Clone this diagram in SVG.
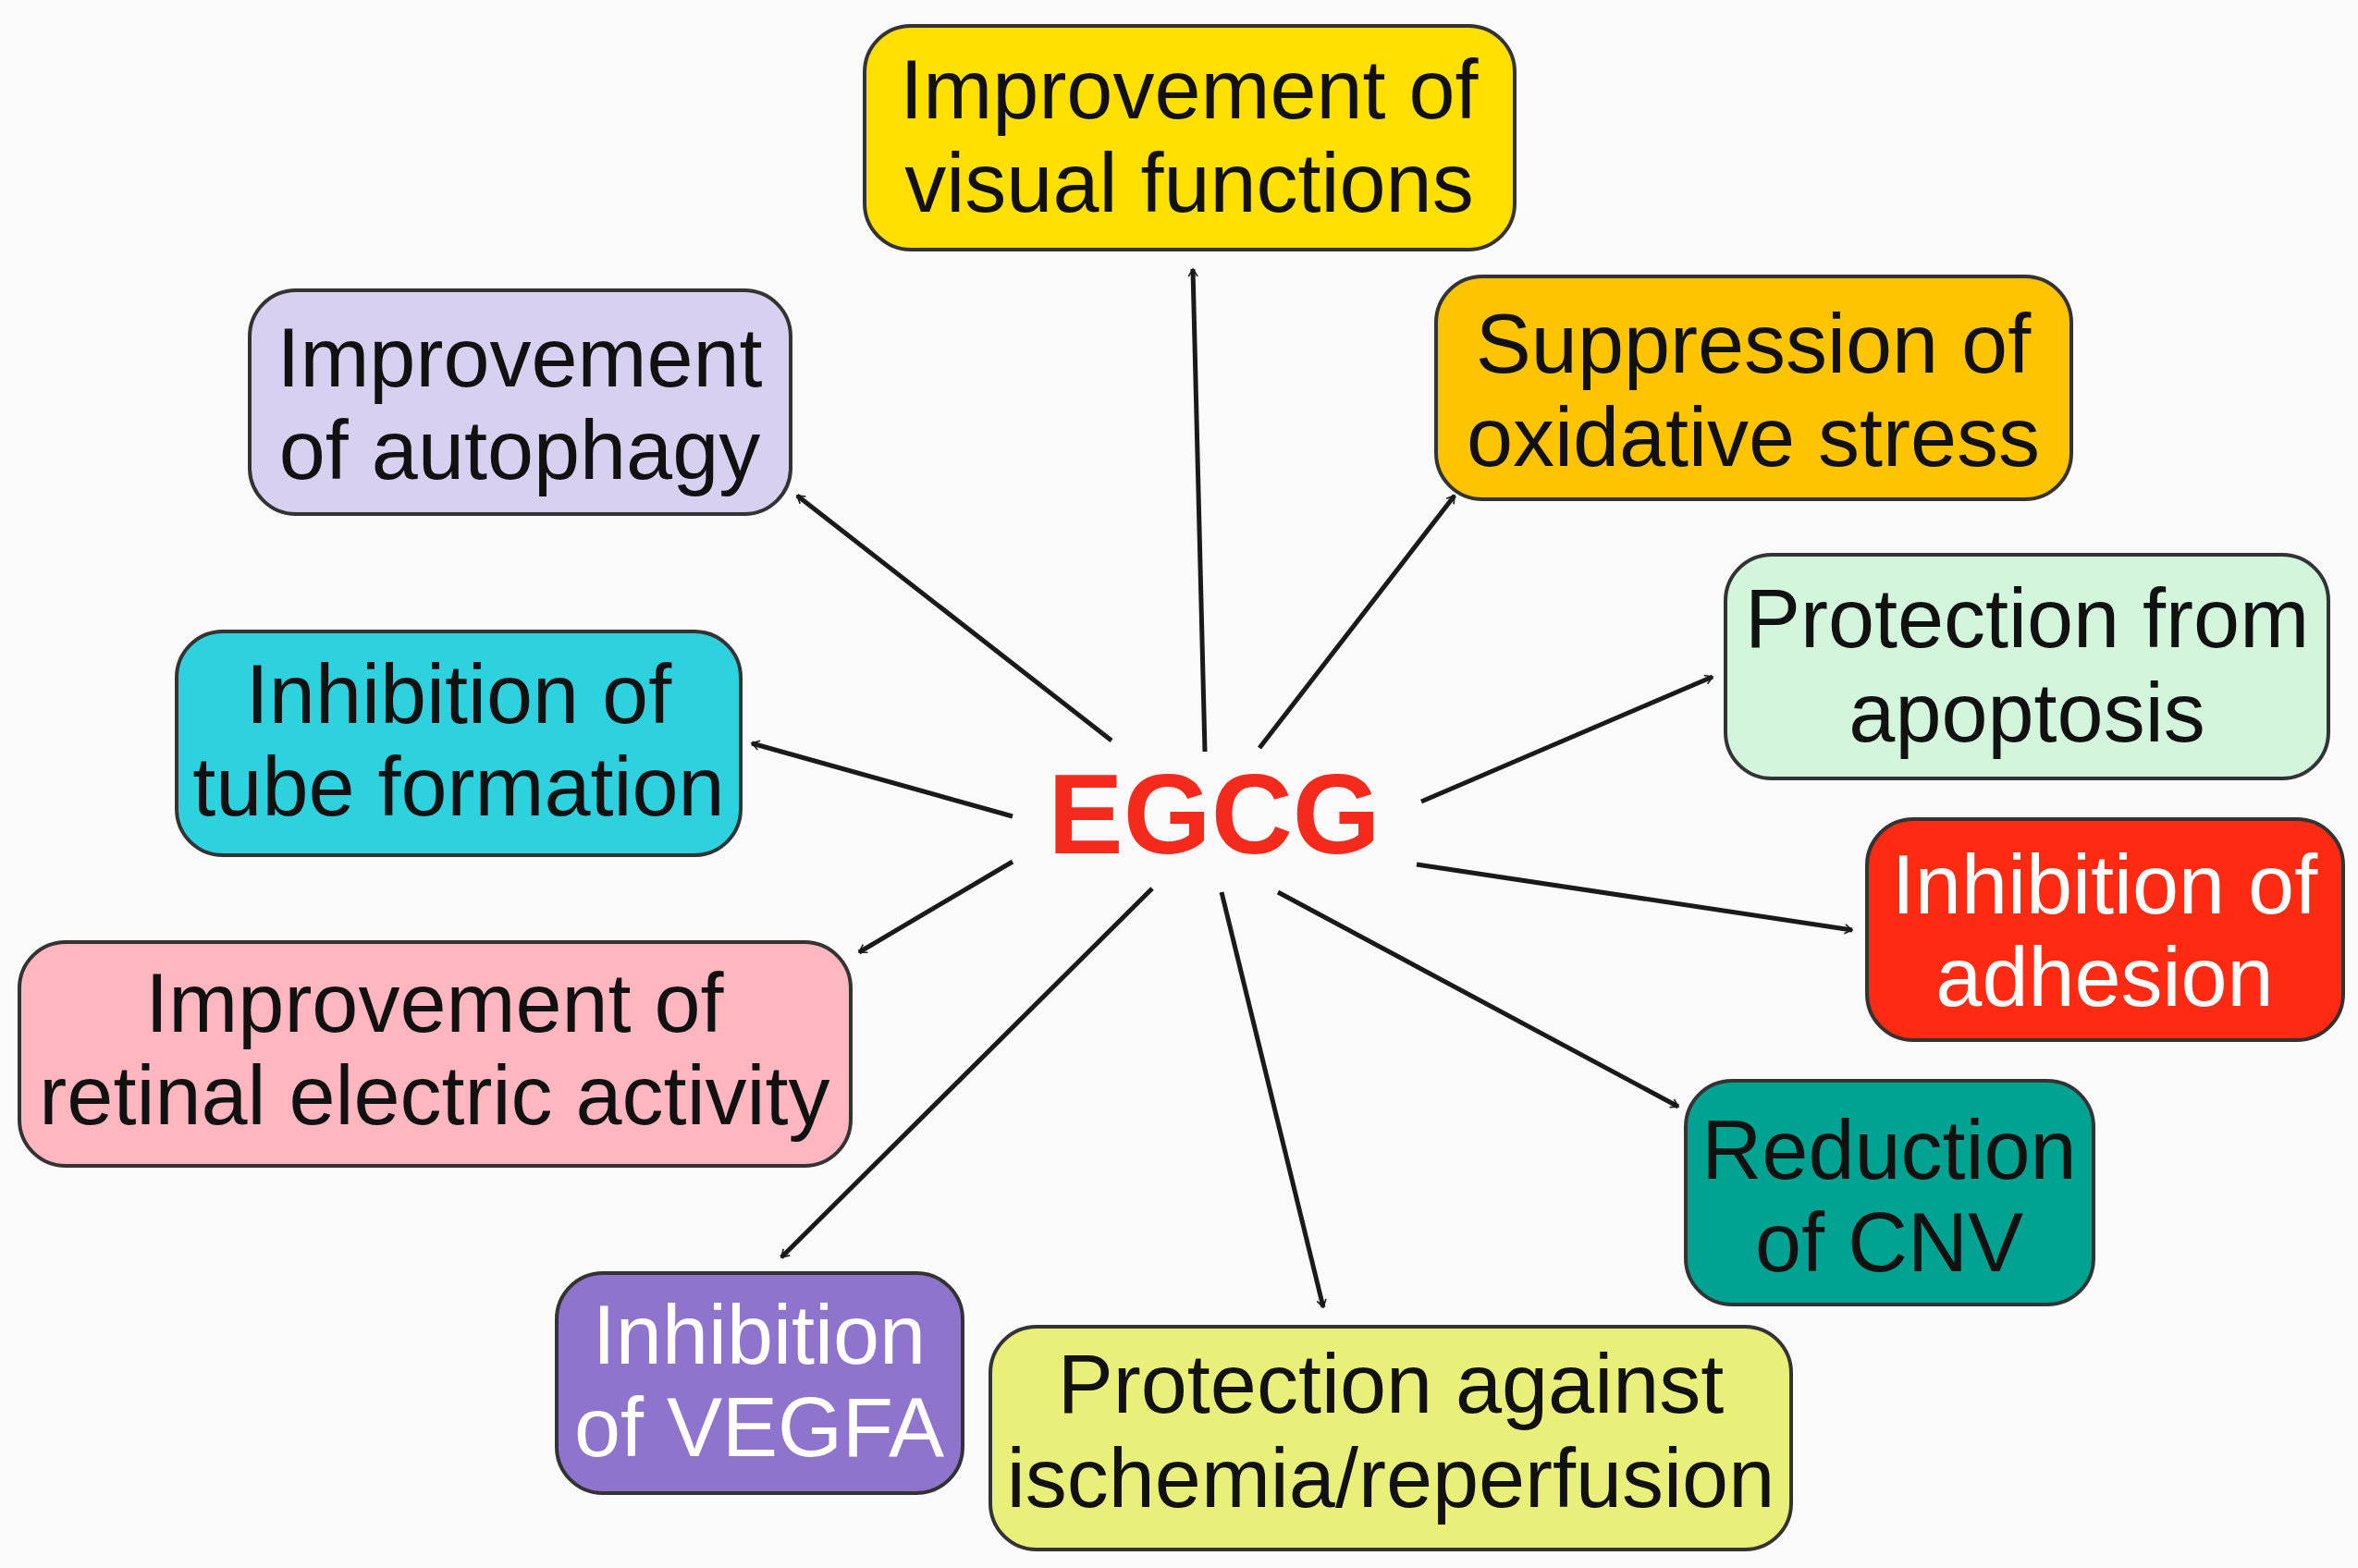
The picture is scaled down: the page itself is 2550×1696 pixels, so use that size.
<svg xmlns="http://www.w3.org/2000/svg" width="2550" height="1696" viewBox="0 0 2550 1696">
<style>
.b{stroke:#333;stroke-width:4}
.t{font-family:"Liberation Sans",Arial,sans-serif;font-size:90px;fill:#111;text-anchor:middle}
.w{fill:#fff}
.c line{stroke:#1a1a1a;stroke-width:5;marker-end:url(#a)}
</style>
<defs><marker id="a" markerWidth="12" markerHeight="12" refX="9" refY="6" orient="auto" markerUnits="userSpaceOnUse" viewBox="0 0 12 12"><polyline points="1,1 9,6 1,11" fill="none" stroke="#1a1a1a" stroke-width="1.6"/></marker>
</defs>
<rect width="2550" height="1696" fill="#fafafa"/>
<g id="visual"><rect class="b" x="935" y="28" width="703" height="242" rx="50" fill="#FFE000"/><text class="t" x="1286" y="128">Improvement of</text><text class="t" x="1286" y="229">visual functions</text></g>
<g id="oxidative"><rect class="b" x="1553" y="299" width="687" height="241" rx="50" fill="#FFC400"/><text class="t" x="1896" y="403">Suppression of</text><text class="t" x="1896" y="504">oxidative stress</text></g>
<g id="autophagy"><rect class="b" x="270" y="314" width="585" height="242" rx="50" fill="#D8D0F0"/><text class="t" x="562" y="418">Improvement</text><text class="t" x="562" y="518">of autophagy</text></g>
<g id="tube"><rect class="b" x="191" y="683" width="610" height="242" rx="50" fill="#2ED2DE"/><text class="t" x="496" y="782">Inhibition of</text><text class="t" x="496" y="882">tube formation</text></g>
<g id="apoptosis"><rect class="b" x="1866" y="600" width="652" height="242" rx="50" fill="#D2F5DC"/><text class="t" x="2192" y="700">Protection from</text><text class="t" x="2192" y="802">apoptosis</text></g>
<g id="adhesion"><rect class="b" x="2019" y="886" width="515" height="239" rx="50" fill="#FF2A12"/><text class="t w" x="2276" y="988">Inhibition of</text><text class="t w" x="2276" y="1088">adhesion</text></g>
<g id="retinal"><rect class="b" x="21" y="1019" width="899" height="242" rx="50" fill="#FFB6BE"/><text class="t" x="470" y="1116">Improvement of</text><text class="t" x="470" y="1216">retinal electric activity</text></g>
<g id="cnv"><rect class="b" x="1823" y="1169" width="441" height="242" rx="50" fill="#00A292"/><text class="t" x="2043" y="1275">Reduction</text><text class="t" x="2043" y="1375">of CNV</text></g>
<g id="vegfa"><rect class="b" x="602" y="1377" width="439" height="238" rx="50" fill="#8E74CC"/><text class="t w" x="821" y="1475">Inhibition</text><text class="t w" x="821" y="1575">of VEGFA</text></g>
<g id="ischemia"><rect class="b" x="1071" y="1435" width="866" height="241" rx="50" fill="#E8F07A"/><text class="t" x="1504" y="1528">Protection against</text><text class="t" x="1504" y="1630">ischemia/reperfusion</text></g>
<g id="egcg"><text x="1313" y="923" font-family="Liberation Sans,Arial,sans-serif" font-weight="bold" font-size="122" fill="#F42A1C" text-anchor="middle">EGCG</text></g>
<g class="c">
<line x1="1303" y1="813" x2="1290" y2="291"/>
<line x1="1362" y1="809" x2="1573" y2="536"/>
<line x1="1202" y1="801" x2="862" y2="536"/>
<line x1="1095" y1="883" x2="813" y2="804"/>
<line x1="1537" y1="867" x2="1852" y2="732"/>
<line x1="1532" y1="935" x2="2003" y2="1006"/>
<line x1="1095" y1="932" x2="929" y2="1030"/>
<line x1="1382" y1="965" x2="1815" y2="1197"/>
<line x1="1246" y1="961" x2="845" y2="1360"/>
<line x1="1321" y1="965" x2="1431" y2="1414"/>
</g>
</svg>
